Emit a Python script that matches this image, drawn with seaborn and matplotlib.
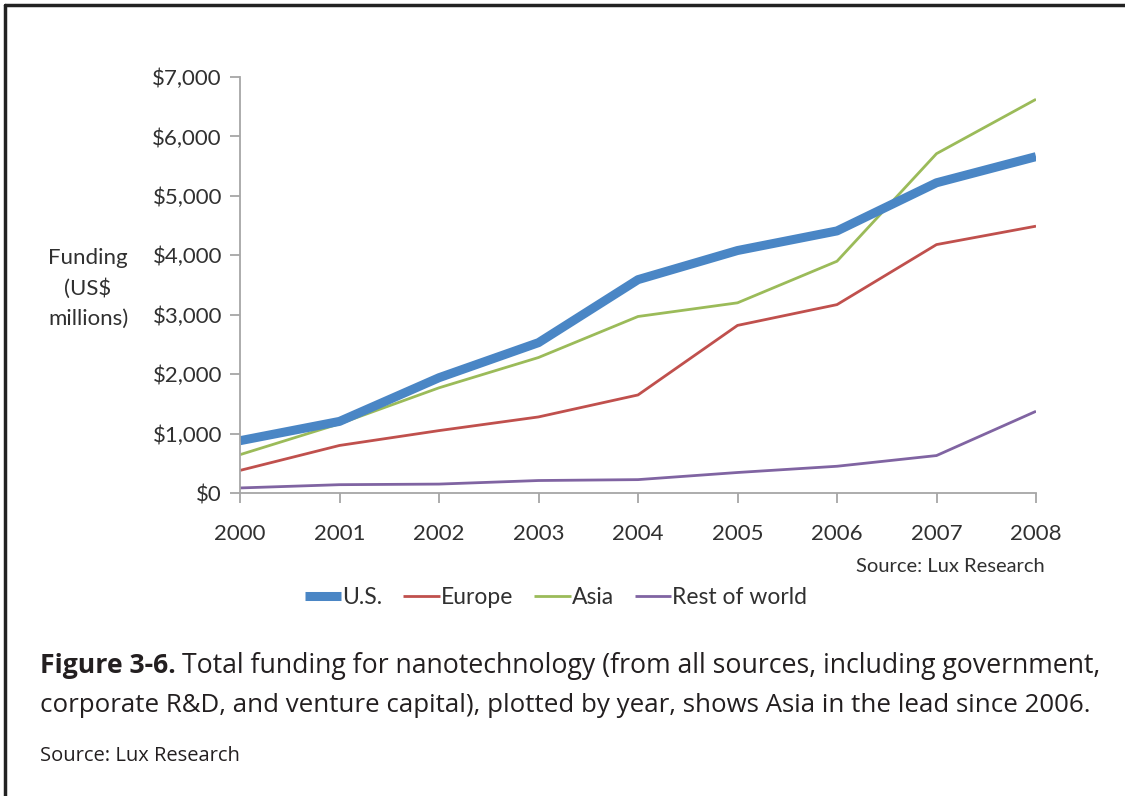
import matplotlib
matplotlib.use("Agg")
import matplotlib.pyplot as plt
import seaborn as sns
import pandas as pd
from matplotlib.lines import Line2D
from matplotlib.ticker import FuncFormatter

years = [2000, 2001, 2002, 2003, 2004, 2005, 2006, 2007, 2008]
us = [880, 1205, 1940, 2530, 3590, 4080, 4410, 5220, 5660]
europe = [380, 800, 1050, 1280, 1650, 2820, 3170, 4180, 4490]
asia = [645, 1165, 1770, 2280, 2970, 3200, 3900, 5710, 6625]
rest = [85, 140, 150, 210, 225, 345, 450, 630, 1375]
series_names = ["U.S.", "Europe", "Asia", "Rest of world"]
yticks = [0, 1000, 2000, 3000, 4000, 5000, 6000, 7000]

colors = {"U.S.": "#4a86c5", "Europe": "#c0504d", "Asia": "#9bbb59", "Rest of world": "#8064a2"}
widths = {"U.S.": 6.5, "Europe": 2.0, "Asia": 2.0, "Rest of world": 2.0}

rows = []
for name, vals in zip(series_names, [us, europe, asia, rest]):
    for y, v in zip(years, vals):
        rows.append({"year": y, "value": v, "region": name})
df = pd.DataFrame(rows)

sns.set_style("white")
plt.rcParams["font.family"] = ["Lato", "DejaVu Sans"]

fig = plt.figure(figsize=(11.25, 7.96), dpi=100)
ax = fig.add_axes([240/1125, 1-493/796, (1036-240)/1125, (493-77)/796])

for name in ["Rest of world", "Europe", "Asia", "U.S."]:
    sub = df[df["region"] == name]
    sns.lineplot(data=sub, x="year", y="value", ax=ax, color=colors[name],
                 linewidth=widths[name], legend=False, solid_capstyle="butt")

ax.set_xlim(2000, 2008)
ax.set_ylim(0, 7000)
ax.set_xticks(years)
ax.set_xticklabels([str(y) for y in years])
ax.set_yticks(yticks)
ax.yaxis.set_major_formatter(FuncFormatter(lambda v, p: f"${int(v):,}"))
ax.set_xlabel("")
ax.set_ylabel("")
for s in ["top", "right"]:
    ax.spines[s].set_visible(False)
for s in ["left", "bottom"]:
    ax.spines[s].set_color("#a6a6a6")
    ax.spines[s].set_linewidth(1.3)
ax.tick_params(axis="both", which="both", length=7, width=1.3, color="#a6a6a6",
               labelsize=16, labelcolor="#303030", direction="out")
ax.tick_params(axis="y", pad=6, left=True)
ax.tick_params(axis="x", pad=15, bottom=True)

fig.text(88/1125, 1-288/796, "Funding\n(US$\nmillions)", ha="center", va="center",
         fontsize=16, color="#303030", linespacing=1.62)

fig.text(1045/1125, 1-567/796, "Source: Lux Research", ha="right", va="center",
         fontsize=14.5, color="#303030")

handles = [Line2D([0], [0], color=colors[n], lw=widths[n], solid_capstyle="butt") for n in series_names]
fig.legend(handles, series_names, loc="center", bbox_to_anchor=(556/1125, 1-598/796),
           ncol=4, frameon=False, fontsize=16.5, handlelength=1.6, handletextpad=0.05,
           columnspacing=0.9, labelcolor="#303030")

# caption
cap_font = ["Open Sans", "DejaVu Sans"]
fig.canvas.draw()
r = fig.canvas.get_renderer()
t1 = fig.text(40/1125, 1-666/796, "Figure 3-6.", ha="left", va="center", fontsize=19.2,
              fontweight="bold", family=cap_font, color="#231f20")
bb = t1.get_window_extent(renderer=r)
x2 = (bb.x1 + 6) / fig.bbox.width
fig.text(x2, 1-666/796, "Total funding for nanotechnology (from all sources, including government,",
         ha="left", va="center", fontsize=19.2, family=cap_font, color="#231f20")
fig.text(40/1125, 1-706/796, "corporate R&D, and venture capital), plotted by year, shows Asia in the lead since 2006.",
         ha="left", va="center", fontsize=18.6, family=cap_font, color="#231f20")
fig.text(40/1125, 1-756/796, "Source: Lux Research", ha="left", va="center", fontsize=14.5,
         family=cap_font, color="#231f20")

# frame lines (top and left)
fig.add_artist(Line2D([5/1125, 5/1125], [0, 1-4.5/796], transform=fig.transFigure, color="#222222", lw=2.5))
fig.add_artist(Line2D([5/1125, 1], [1-4.5/796, 1-4.5/796], transform=fig.transFigure, color="#222222", lw=2.5))

fig.savefig("out.png", dpi=100)
